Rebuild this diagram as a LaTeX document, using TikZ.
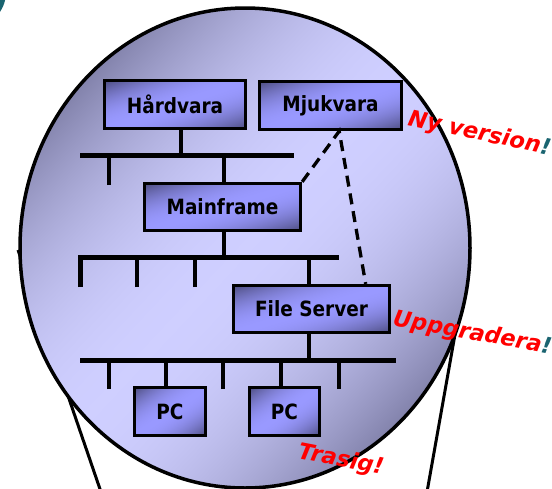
\documentclass[tikz,border=0pt]{standalone}
\usepackage{fontspec}
\setmainfont{DejaVu Sans}
\newfontfamily\boxfont{DejaVu Sans}[FakeStretch=0.88]
\usetikzlibrary{calc}
\definecolor{tealx}{HTML}{1A6470}
\definecolor{redx}{HTML}{FF0000}
\pgfdeclarefunctionalshading{boxfn}{\pgfpointorigin}{\pgfpoint{100bp}{100bp}}{}{
  sub abs 50 div dup mul dup dup
  -0.30 mul 0.60 add 3 1 roll
  -0.30 mul 0.60 add exch
  -0.50 mul 1.0 add
}
\pgfdeclarefunctionalshading{ellfn}{\pgfpointorigin}{\pgfpoint{100bp}{100bp}}{}{
  sub abs 35.4 div dup mul dup dup
  -0.30 mul 0.81 add 3 1 roll
  -0.30 mul 0.81 add exch
  -0.33 mul 1.0 add
}
\begin{document}
\begin{tikzpicture}[x=1pt,y=-1pt,
  box/.style={draw=black, line width=3.3pt, shading=boxfn,
    inner sep=0pt, font=\boxfont\fontsize{21}{23}\selectfont\bfseries},
  bus/.style={line width=5pt},
  drop/.style={line width=4pt},
  dashx/.style={line width=3.3pt, dash pattern=on 11pt off 7pt},
  lab/.style={anchor=base west, inner sep=0pt, text=redx,
    font=\fontsize{22.5}{25}\selectfont\bfseries\itshape}]
\useasboundingbox (0,0) rectangle (552,488);
% teal corner shape
\fill[tealx] (-30,-8) circle [radius=36];
% funnel lines
\draw[line width=3pt] (18,250) -- (101,492);
\draw[line width=3pt] (470,250) -- (427,492);
% lens
\draw[line width=3.5pt, shading=ellfn] (245,248) ellipse [x radius=225, y radius=240];
% boxes
\node[box, minimum width=141pt, minimum height=48pt] (hw) at (175,104.5) {Hårdvara};
\node[box, minimum width=142pt, minimum height=48pt] (mj) at (330.5,105.5) {Mjukvara};
\node[box, minimum width=156pt, minimum height=47pt] (mf) at (222.5,207) {Mainframe};
\node[box, minimum width=156pt, minimum height=47pt] (fs) at (311.5,309) {File Server};
\node[box, minimum width=71pt, minimum height=48pt] (pc1) at (170,411.5) {PC};
\node[box, minimum width=70pt, minimum height=48pt] (pc2) at (284.5,411.5) {PC};
% bus 1
\coordinate (b1l) at (80,155);
\coordinate (b1r) at (294,155);
\draw[bus] (b1l) -- (b1r);
\coordinate (hwc) at ($(hw.south)+(6,0)$);
\draw[drop] (hwc) -- (hwc |- b1l);
\coordinate (d11) at (109,185);
\draw[drop] (d11) -- (d11 |- b1l);
\coordinate (mfc) at ($(mf.north)+(1.5,0)$);
\draw[drop] (mfc) -- (mfc |- b1l);
% bus 2
\coordinate (b2l) at (80,257);
\coordinate (b2r) at (339,257);
\coordinate (d21) at (80,287);
\coordinate (d22) at (137,287);
\coordinate (d23) at (195,287);
\draw[bus, line join=miter] (d21) -- (b2l) -- (b2r);
\draw[drop] (d22) -- (d22 |- b2l);
\draw[drop] (d23) -- (d23 |- b2l);
\coordinate (mfs) at ($(mf.south)+(1.5,0)$);
\draw[drop] (mfs) -- (mfs |- b2l);
\coordinate (fsn) at ($(fs.north)+(-2.5,0)$);
\draw[drop] (fsn) -- (fsn |- b2l);
% bus 3
\coordinate (b3l) at (80,360);
\coordinate (b3r) at (396,360);
\draw[bus] (b3l) -- (b3r);
\coordinate (fss) at ($(fs.south)+(-2.5,0)$);
\draw[drop] (fss) -- (fss |- b3l);
\coordinate (d31) at (109,389);
\coordinate (d32) at (223,389);
\coordinate (d33) at (339,389);
\draw[drop] (d31) -- (d31 |- b3l);
\draw[drop] (d32) -- (d32 |- b3l);
\draw[drop] (d33) -- (d33 |- b3l);
\coordinate (pc1c) at ($(pc1.north)+(-4,0)$);
\draw[drop] (pc1c) -- (pc1c |- b3l);
\coordinate (pc2c) at ($(pc2.north)+(-3.5,0)$);
\draw[drop] (pc2c) -- (pc2c |- b3l);
% dashed links
\coordinate (mjp) at ($(mj.south west)!0.56!(mj.south east)$);
\coordinate (fsp) at ($(fs.north west)!0.84!(fs.north east)$);
\draw[dashx, line join=miter] (mf.north east) -- (mjp) -- (fsp);
% labels
\node[lab, rotate=-12] (nyv) at (407,125) {Ny version\textcolor{tealx}{!}};
\node[lab, rotate=-10.5] (upg) at (392,325) {Uppgradera\textcolor{tealx}{!}};
\node[lab, rotate=-11] (tra) at (297,458) {Trasig!};
\end{tikzpicture}
\end{document}
